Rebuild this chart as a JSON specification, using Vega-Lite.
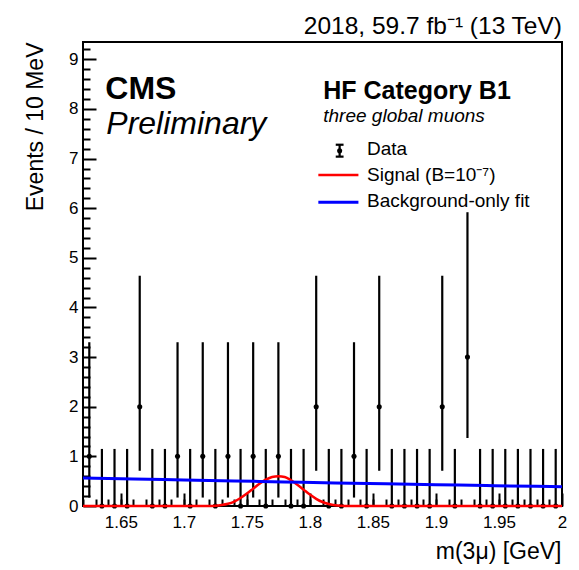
{
  "$schema": "https://vega.github.io/schema/vega-lite/v6.json",
  "width": 479,
  "height": 464,
  "autosize": {"type": "none"},
  "padding": {"left": 83, "top": 42, "right": 17, "bottom": 64},
  "background": "white",
  "config": {
    "font": "Liberation Sans",
    "view": {"stroke": "black", "strokeWidth": 2},
    "axis": {
      "labelFont": "Liberation Sans",
      "titleFont": "Liberation Sans",
      "labelColor": "black",
      "titleColor": "black",
      "tickColor": "black",
      "grid": false,
      "domain": false,
      "titleFontWeight": "normal",
      "labelFlush": false,
      "labelOverlap": false
    }
  },
  "title": {
    "text": "2018, 59.7 fb⁻¹ (13 TeV)",
    "anchor": "end",
    "frame": "group",
    "font": "Liberation Sans",
    "fontSize": 24.5,
    "fontWeight": "normal",
    "color": "black",
    "baseline": "alphabetic",
    "offset": 10,
    "dy": 26
  },
  "datasets": {
    "counts": [
      {"mass": 1.625, "events": 1, "lo": 0.17, "hi": 3.30},
      {"mass": 1.635, "events": 0, "lo": 0, "hi": 1.15},
      {"mass": 1.645, "events": 0, "lo": 0, "hi": 1.15},
      {"mass": 1.655, "events": 0, "lo": 0, "hi": 1.15},
      {"mass": 1.665, "events": 2, "lo": 0.71, "hi": 4.64},
      {"mass": 1.675, "events": 0, "lo": 0, "hi": 1.15},
      {"mass": 1.685, "events": 0, "lo": 0, "hi": 1.15},
      {"mass": 1.695, "events": 1, "lo": 0.17, "hi": 3.30},
      {"mass": 1.705, "events": 0, "lo": 0, "hi": 1.15},
      {"mass": 1.715, "events": 1, "lo": 0.17, "hi": 3.30},
      {"mass": 1.725, "events": 0, "lo": 0, "hi": 1.15},
      {"mass": 1.735, "events": 1, "lo": 0.17, "hi": 3.30},
      {"mass": 1.745, "events": 0, "lo": 0, "hi": 1.15},
      {"mass": 1.755, "events": 1, "lo": 0.17, "hi": 3.30},
      {"mass": 1.765, "events": 0, "lo": 0, "hi": 1.15},
      {"mass": 1.775, "events": 1, "lo": 0.17, "hi": 3.30},
      {"mass": 1.785, "events": 0, "lo": 0, "hi": 1.15},
      {"mass": 1.795, "events": 0, "lo": 0, "hi": 1.15},
      {"mass": 1.805, "events": 2, "lo": 0.71, "hi": 4.64},
      {"mass": 1.815, "events": 0, "lo": 0, "hi": 1.15},
      {"mass": 1.825, "events": 0, "lo": 0, "hi": 1.15},
      {"mass": 1.835, "events": 1, "lo": 0.17, "hi": 3.30},
      {"mass": 1.845, "events": 0, "lo": 0, "hi": 1.15},
      {"mass": 1.855, "events": 2, "lo": 0.71, "hi": 4.64},
      {"mass": 1.865, "events": 0, "lo": 0, "hi": 1.15},
      {"mass": 1.875, "events": 0, "lo": 0, "hi": 1.15},
      {"mass": 1.885, "events": 0, "lo": 0, "hi": 1.15},
      {"mass": 1.895, "events": 0, "lo": 0, "hi": 1.15},
      {"mass": 1.905, "events": 2, "lo": 0.71, "hi": 4.64},
      {"mass": 1.915, "events": 0, "lo": 0, "hi": 1.15},
      {"mass": 1.925, "events": 3, "lo": 1.37, "hi": 5.92},
      {"mass": 1.935, "events": 0, "lo": 0, "hi": 1.15},
      {"mass": 1.945, "events": 0, "lo": 0, "hi": 1.15},
      {"mass": 1.955, "events": 0, "lo": 0, "hi": 1.15},
      {"mass": 1.965, "events": 0, "lo": 0, "hi": 1.15},
      {"mass": 1.975, "events": 0, "lo": 0, "hi": 1.15},
      {"mass": 1.985, "events": 0, "lo": 0, "hi": 1.15},
      {"mass": 1.995, "events": 0, "lo": 0, "hi": 1.15}
    ],
    "signal": [
      {"mass": 1.62, "events": 0},
      {"mass": 1.70, "events": 0},
      {"mass": 1.72, "events": 0.002},
      {"mass": 1.725, "events": 0.006},
      {"mass": 1.73, "events": 0.02},
      {"mass": 1.735, "events": 0.045},
      {"mass": 1.74, "events": 0.09},
      {"mass": 1.745, "events": 0.16},
      {"mass": 1.75, "events": 0.25},
      {"mass": 1.755, "events": 0.35},
      {"mass": 1.76, "events": 0.45},
      {"mass": 1.765, "events": 0.53},
      {"mass": 1.77, "events": 0.585},
      {"mass": 1.775, "events": 0.6},
      {"mass": 1.78, "events": 0.585},
      {"mass": 1.785, "events": 0.52},
      {"mass": 1.79, "events": 0.43},
      {"mass": 1.795, "events": 0.33},
      {"mass": 1.80, "events": 0.23},
      {"mass": 1.805, "events": 0.145},
      {"mass": 1.81, "events": 0.08},
      {"mass": 1.815, "events": 0.04},
      {"mass": 1.82, "events": 0.015},
      {"mass": 1.825, "events": 0.005},
      {"mass": 1.83, "events": 0.001},
      {"mass": 1.85, "events": 0},
      {"mass": 2.0, "events": 0}
    ],
    "background": [
      {"mass": 1.62, "events": 0.565},
      {"mass": 1.66, "events": 0.545},
      {"mass": 1.70, "events": 0.525},
      {"mass": 1.74, "events": 0.505},
      {"mass": 1.78, "events": 0.485},
      {"mass": 1.82, "events": 0.465},
      {"mass": 1.86, "events": 0.447},
      {"mass": 1.90, "events": 0.43},
      {"mass": 1.94, "events": 0.412},
      {"mass": 1.98, "events": 0.396},
      {"mass": 2.0, "events": 0.39}
    ]
  },
  "layer": [
    {
      "data": {"name": "counts"},
      "mark": {"type": "rule", "color": "black", "strokeWidth": 2.2},
      "encoding": {
        "x": {
          "field": "mass", "type": "quantitative",
          "scale": {"domain": [1.62, 2.0], "nice": false, "zero": false},
          "axis": {
            "orient": "bottom", "offset": 0,
            "values": [1.65, 1.7, 1.75, 1.8, 1.85, 1.9, 1.95, 2.0],
            "format": "~g",
            "tickSize": -13, "tickWidth": 2,
            "labelFontSize": 17, "labelPadding": 21,
            "title": "m(3μ) [GeV]", "titleFontSize": 23,
            "titleX": 478, "titleY": 52, "titleAlign": "right", "titleBaseline": "alphabetic"
          }
        },
        "y": {
          "field": "lo", "type": "quantitative",
          "scale": {"domain": [0, 9.35], "nice": false},
          "axis": {
            "orient": "left", "offset": 0,
            "values": [0, 1, 2, 3, 4, 5, 6, 7, 8, 9],
            "format": "d",
            "tickSize": -13, "tickWidth": 2,
            "labelFontSize": 17, "labelPadding": 18,
            "title": "Events / 10 MeV", "titleFontSize": 23,
            "titleAngle": -90, "titleX": -41, "titleY": 0,
            "titleAlign": "right", "titleBaseline": "alphabetic"
          }
        },
        "y2": {"field": "hi"}
      }
    },
    {
      "data": {"name": "counts"},
      "mark": {"type": "point", "shape": "circle", "filled": true, "size": 26, "color": "black", "opacity": 1},
      "encoding": {
        "x": {
          "field": "mass", "type": "quantitative",
          "axis": {
            "orient": "bottom", "offset": 0,
            "values": [1.62, 1.63, 1.64, 1.65, 1.66, 1.67, 1.68, 1.69, 1.7, 1.71, 1.72, 1.73, 1.74, 1.75, 1.76, 1.77, 1.78, 1.79, 1.8, 1.81, 1.82, 1.83, 1.84, 1.85, 1.86, 1.87, 1.88, 1.89, 1.9, 1.91, 1.92, 1.93, 1.94, 1.95, 1.96, 1.97, 1.98, 1.99],
            "tickSize": -7, "tickWidth": 2, "labels": false, "title": null
          }
        },
        "y": {
          "field": "events", "type": "quantitative",
          "axis": {
            "orient": "left", "offset": 0,
            "values": [0.2, 0.4, 0.6, 0.8, 1.2, 1.4, 1.6, 1.8, 2.2, 2.4, 2.6, 2.8, 3.2, 3.4, 3.6, 3.8, 4.2, 4.4, 4.6, 4.8, 5.2, 5.4, 5.6, 5.8, 6.2, 6.4, 6.6, 6.8, 7.2, 7.4, 7.6, 7.8, 8.2, 8.4, 8.6, 8.8, 9.2],
            "tickSize": -7, "tickWidth": 2, "labels": false, "title": null
          }
        }
      }
    },
    {
      "data": {"name": "signal"},
      "mark": {"type": "line", "color": "#ff0000", "strokeWidth": 2.5, "interpolate": "monotone"},
      "encoding": {
        "x": {"field": "mass", "type": "quantitative", "axis": null},
        "y": {"field": "events", "type": "quantitative", "axis": null}
      }
    },
    {
      "data": {"name": "background"},
      "mark": {"type": "line", "color": "#0000ff", "strokeWidth": 3, "interpolate": "monotone"},
      "encoding": {
        "x": {"field": "mass", "type": "quantitative", "axis": null},
        "y": {"field": "events", "type": "quantitative", "axis": null}
      }
    },
    {
      "data": {"values": [{}]},
      "mark": {"type": "text", "text": "CMS", "fontSize": 32, "fontWeight": "bold", "align": "left", "baseline": "alphabetic", "color": "black"},
      "encoding": {
        "x": {"datum": 1.6377, "type": "quantitative", "axis": null},
        "y": {"datum": 8.21, "type": "quantitative", "axis": null}
      }
    },
    {
      "data": {"values": [{}]},
      "mark": {"type": "text", "text": "Preliminary", "fontSize": 32, "fontStyle": "italic", "align": "left", "baseline": "alphabetic", "color": "black"},
      "encoding": {
        "x": {"datum": 1.6385, "type": "quantitative", "axis": null},
        "y": {"datum": 7.5, "type": "quantitative", "axis": null}
      }
    },
    {
      "data": {"values": [{}]},
      "mark": {"type": "text", "text": "HF Category B1", "fontSize": 25, "fontWeight": "bold", "align": "left", "baseline": "alphabetic", "color": "black"},
      "encoding": {
        "x": {"datum": 1.8106, "type": "quantitative", "axis": null},
        "y": {"datum": 8.195, "type": "quantitative", "axis": null}
      }
    },
    {
      "data": {"values": [{}]},
      "mark": {"type": "text", "text": "three global muons", "fontSize": 19, "fontStyle": "italic", "align": "left", "baseline": "alphabetic", "color": "black"},
      "encoding": {
        "x": {"datum": 1.8106, "type": "quantitative", "axis": null},
        "y": {"datum": 7.73, "type": "quantitative", "axis": null}
      }
    },
    {
      "data": {"values": [{}]},
      "mark": {"type": "text", "text": "Data", "fontSize": 19, "align": "left", "baseline": "alphabetic", "color": "black"},
      "encoding": {
        "x": {"datum": 1.8453, "type": "quantitative", "axis": null},
        "y": {"datum": 7.08, "type": "quantitative", "axis": null}
      }
    },
    {
      "data": {"values": [{}]},
      "mark": {"type": "text", "text": "Signal (B=10⁻⁷)", "fontSize": 19, "align": "left", "baseline": "alphabetic", "color": "black"},
      "encoding": {
        "x": {"datum": 1.8453, "type": "quantitative", "axis": null},
        "y": {"datum": 6.55, "type": "quantitative", "axis": null}
      }
    },
    {
      "data": {"values": [{}]},
      "mark": {"type": "text", "text": "Background-only fit", "fontSize": 19, "align": "left", "baseline": "alphabetic", "color": "black"},
      "encoding": {
        "x": {"datum": 1.8453, "type": "quantitative", "axis": null},
        "y": {"datum": 6.03, "type": "quantitative", "axis": null}
      }
    },
    {
      "data": {"values": [{}]},
      "mark": {"type": "rule", "color": "black", "strokeWidth": 2.2},
      "encoding": {
        "x": {"datum": 1.8236, "type": "quantitative", "axis": null},
        "y": {"datum": 7.04, "type": "quantitative", "axis": null},
        "y2": {"datum": 7.28}
      }
    },
    {
      "data": {"values": [{}]},
      "mark": {"type": "rule", "color": "black", "strokeWidth": 2.2},
      "encoding": {
        "x": {"datum": 1.8205, "type": "quantitative", "axis": null},
        "x2": {"datum": 1.8267},
        "y": {"datum": 7.28, "type": "quantitative", "axis": null}
      }
    },
    {
      "data": {"values": [{}]},
      "mark": {"type": "rule", "color": "black", "strokeWidth": 2.2},
      "encoding": {
        "x": {"datum": 1.8205, "type": "quantitative", "axis": null},
        "x2": {"datum": 1.8267},
        "y": {"datum": 7.04, "type": "quantitative", "axis": null}
      }
    },
    {
      "data": {"values": [{}]},
      "mark": {"type": "point", "shape": "circle", "filled": true, "size": 26, "color": "black", "opacity": 1},
      "encoding": {
        "x": {"datum": 1.8236, "type": "quantitative", "axis": null},
        "y": {"datum": 7.16, "type": "quantitative", "axis": null}
      }
    },
    {
      "data": {"values": [{}]},
      "mark": {"type": "rule", "color": "#ff0000", "strokeWidth": 2.5},
      "encoding": {
        "x": {"datum": 1.8067, "type": "quantitative", "axis": null},
        "x2": {"datum": 1.8385},
        "y": {"datum": 6.67, "type": "quantitative", "axis": null}
      }
    },
    {
      "data": {"values": [{}]},
      "mark": {"type": "rule", "color": "#0000ff", "strokeWidth": 3},
      "encoding": {
        "x": {"datum": 1.8067, "type": "quantitative", "axis": null},
        "x2": {"datum": 1.8385},
        "y": {"datum": 6.12, "type": "quantitative", "axis": null}
      }
    }
  ],
  "resolve": {"axis": {"x": "independent", "y": "independent"}}
}
